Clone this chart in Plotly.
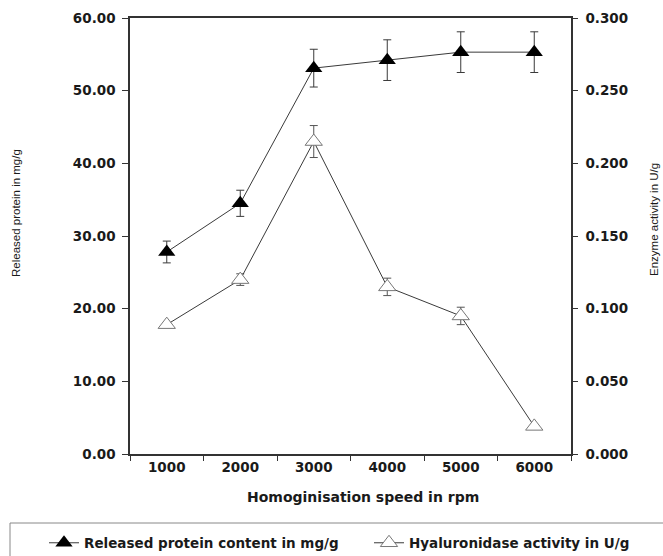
import plotly.graph_objects as go

speed = [1000, 2000, 3000, 4000, 5000, 6000]
protein = [27.8, 34.5, 53.1, 54.2, 55.3, 55.3]
protein_err = [1.5, 1.8, 2.6, 2.8, 2.8, 2.8]
hyal = [0.089, 0.120, 0.215, 0.115, 0.095, 0.019]
hyal_err = [0.0, 0.004, 0.011, 0.006, 0.006, 0.0]

left_ticks = [0, 10, 20, 30, 40, 50, 60]
right_ticks = [0.0, 0.05, 0.10, 0.15, 0.20, 0.25, 0.30]

TICKFONT = dict(family="DejaVu Sans", size=13.5, color="#1a1a1a", weight="bold")
TITLEFONT = dict(family="Liberation Sans, Arial", size=11.5, color="#1a1a1a")
LEGFONT = dict(family="DejaVu Sans", size=13.5, color="#1a1a1a", weight="bold")
AX = "#333333"

fig = go.Figure()
fig.add_trace(go.Scatter(
    x=speed, y=protein, name="Released protein content in mg/g",
    mode="lines+markers", legend="legend",
    line=dict(color="#3a3a3a", width=1),
    marker=dict(symbol="triangle-up", size=15, color="black", line=dict(color="black", width=0)),
    error_y=dict(type="data", array=protein_err, visible=True, color="#3a3a3a", thickness=1, width=4),
))
fig.add_trace(go.Scatter(
    x=speed, y=hyal, name="Hyaluronidase activity in U/g", yaxis="y2",
    mode="lines+markers", legend="legend2",
    line=dict(color="#3a3a3a", width=1),
    marker=dict(symbol="triangle-up", size=15, color="white", line=dict(color="#777777", width=1)),
    error_y=dict(type="data", array=hyal_err, visible=True, color="#555555", thickness=1, width=4),
))

leg_common = dict(
    orientation="h", xref="paper", yref="paper",
    y=(454 - 543) / 436, xanchor="left", yanchor="middle",
    font=LEGFONT, bgcolor="rgba(0,0,0,0)", itemwidth=30,
)

fig.update_layout(
    width=663, height=556,
    margin=dict(l=130, r=92, t=18, b=102, autoexpand=False),
    paper_bgcolor="white", plot_bgcolor="white",
    showlegend=True,
    legend=dict(x=(44 - 130) / 441, **leg_common),
    legend2=dict(x=(369 - 130) / 441, **leg_common),
    xaxis=dict(
        range=[500, 6500], tickmode="array", tickvals=speed,
        ticktext=[str(v) for v in speed],
        ticks="", showgrid=False, zeroline=False,
        showline=True, linecolor=AX, linewidth=1.5, mirror=True,
        tickfont=TICKFONT,
        minor=dict(tick0=500, dtick=1000, ticks="outside", ticklen=5, tickcolor=AX, showgrid=False),
    ),
    yaxis=dict(
        range=[0, 60], tickmode="array", tickvals=left_ticks,
        ticktext=[f"{v:.2f}" for v in left_ticks],
        ticks="outside", ticklen=6, tickcolor=AX,
        showgrid=False, zeroline=False,
        showline=True, linecolor=AX, linewidth=1.5,
        tickfont=TICKFONT, ticklabelstandoff=4,
    ),
    yaxis2=dict(
        range=[0, 0.3], overlaying="y", side="right",
        tickmode="array", tickvals=right_ticks,
        ticktext=[f"{v:.3f}" for v in right_ticks],
        ticks="outside", ticklen=5, tickcolor=AX,
        showgrid=False, zeroline=False,
        showline=True, linecolor=AX, linewidth=1.5,
        tickfont=TICKFONT, ticklabelstandoff=5,
    ),
    annotations=[
        dict(text="Released protein in mg/g", xref="paper", yref="paper",
             x=(16 - 130) / 441, y=(454 - 213) / 436, textangle=-90,
             showarrow=False, font=TITLEFONT, xanchor="center", yanchor="middle"),
        dict(text="Enzyme activity in U/g", xref="paper", yref="paper",
             x=(654 - 130) / 441, y=(454 - 220) / 436, textangle=-90,
             showarrow=False, font=TITLEFONT, xanchor="center", yanchor="middle"),
        dict(text="Homoginisation speed in rpm", xref="paper", yref="paper",
             x=(363 - 130) / 441, y=(454 - 497) / 436,
             showarrow=False, font=dict(family="DejaVu Sans", size=14, color="#1a1a1a", weight="bold"),
             xanchor="center", yanchor="middle"),
    ],
    shapes=[
        dict(type="rect", xref="paper", yref="paper",
             x0=(10 - 130) / 441, x1=(670 - 130) / 441,
             y0=(454 - 565) / 436, y1=(454 - 523) / 436,
             line=dict(color="#888888", width=1), fillcolor="rgba(0,0,0,0)", layer="below"),
    ],
)

fig.write_html("out.html", config={"displayModeBar": False},
               post_script="document.body.style.margin='0';")
